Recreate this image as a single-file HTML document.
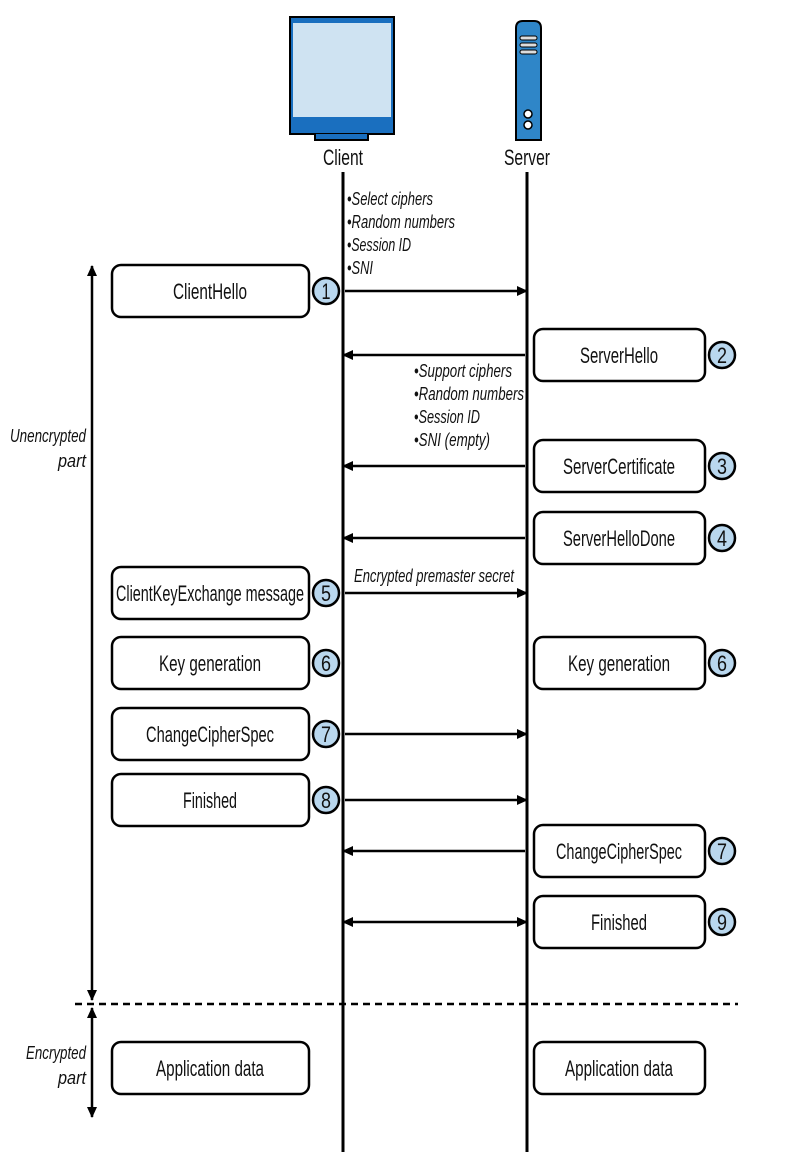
<!DOCTYPE html>
<html><head><meta charset="utf-8"><style>
html,body{margin:0;padding:0;background:#fff}
svg{display:block}
text{font-family:"Liberation Sans",sans-serif;fill:#111}
.b{font-size:22px}
.i{font-size:18px;font-style:italic}
</style></head><body>
<svg width="808" height="1152" viewBox="0 0 808 1152" xmlns="http://www.w3.org/2000/svg">
<defs>
<marker id="ar" markerWidth="12" markerHeight="12" refX="10" refY="6" orient="auto" markerUnits="userSpaceOnUse">
<path d="M0,1 L11,6 L0,11 Z" fill="#000"/></marker>
<marker id="al" markerWidth="12" markerHeight="12" refX="2" refY="6" orient="auto" markerUnits="userSpaceOnUse">
<path d="M12,1 L1,6 L12,11 Z" fill="#000"/></marker>
</defs>
<!-- monitor -->
<rect x="290" y="17" width="104" height="117" fill="#1a6fbf" stroke="#000" stroke-width="2"/>
<rect x="293" y="23" width="98" height="94" fill="#cfe3f2"/>
<path d="M315,134 L315,140 L368,140 L368,134" fill="#1a6fbf" stroke="#000" stroke-width="2"/>
<!-- server -->
<path d="M516,140 L516,28 Q516,21 523,21 L534,21 Q541,21 541,28 L541,140 Z" fill="#2f86c8" stroke="#000" stroke-width="2"/>
<rect x="520" y="36" width="17" height="4" rx="2" fill="#ddd" stroke="#000" stroke-width="1"/>
<rect x="520" y="43" width="17" height="4" rx="2" fill="#ddd" stroke="#000" stroke-width="1"/>
<rect x="520" y="50" width="17" height="4" rx="2" fill="#ddd" stroke="#000" stroke-width="1"/>
<circle cx="528" cy="114" r="4" fill="#fff" stroke="#000" stroke-width="1.5"/>
<circle cx="528" cy="125" r="4" fill="#fff" stroke="#000" stroke-width="1.5"/>
<text class="b" x="343" y="165" text-anchor="middle" textLength="40" lengthAdjust="spacingAndGlyphs">Client</text>
<text class="b" x="527" y="165" text-anchor="middle" textLength="46" lengthAdjust="spacingAndGlyphs">Server</text>
<!-- lifelines -->
<line x1="343" y1="172" x2="343" y2="1152" stroke="#000" stroke-width="3"/>
<line x1="527" y1="172" x2="527" y2="1152" stroke="#000" stroke-width="3"/>
<!-- notes -->
<text class="i" x="347" y="205" textLength="86" lengthAdjust="spacingAndGlyphs">•Select ciphers</text>
<text class="i" x="347" y="228" textLength="108" lengthAdjust="spacingAndGlyphs">•Random numbers</text>
<text class="i" x="347" y="251" textLength="64" lengthAdjust="spacingAndGlyphs">•Session ID</text>
<text class="i" x="347" y="274" textLength="26" lengthAdjust="spacingAndGlyphs">•SNI</text>
<text class="i" x="414" y="377" textLength="98" lengthAdjust="spacingAndGlyphs">•Support ciphers</text>
<text class="i" x="414" y="400" textLength="110" lengthAdjust="spacingAndGlyphs">•Random numbers</text>
<text class="i" x="414" y="423" textLength="66" lengthAdjust="spacingAndGlyphs">•Session ID</text>
<text class="i" x="414" y="446" textLength="76" lengthAdjust="spacingAndGlyphs">•SNI (empty)</text>
<text class="i" x="354" y="582" textLength="160" lengthAdjust="spacingAndGlyphs">Encrypted premaster secret</text>
<!-- arrows -->
<g stroke="#000" stroke-width="2.5">
<line x1="345" y1="291" x2="527" y2="291" marker-end="url(#ar)"/>
<line x1="525" y1="355" x2="343" y2="355" marker-end="url(#ar)"/>
<line x1="525" y1="466" x2="343" y2="466" marker-end="url(#ar)"/>
<line x1="525" y1="538" x2="343" y2="538" marker-end="url(#ar)"/>
<line x1="345" y1="593" x2="527" y2="593" marker-end="url(#ar)"/>
<line x1="345" y1="734" x2="527" y2="734" marker-end="url(#ar)"/>
<line x1="345" y1="800" x2="527" y2="800" marker-end="url(#ar)"/>
<line x1="525" y1="851" x2="343" y2="851" marker-end="url(#ar)"/>
<line x1="343" y1="922" x2="527" y2="922" marker-end="url(#ar)" marker-start="url(#al)"/>
</g>
<!-- boxes -->
<g fill="#fff" stroke="#000" stroke-width="2.5">
<rect x="112" y="265" width="197" height="52" rx="9"/>
<rect x="112" y="567" width="197" height="52" rx="9"/>
<rect x="112" y="637" width="197" height="52" rx="9"/>
<rect x="112" y="708" width="197" height="52" rx="9"/>
<rect x="112" y="774" width="197" height="52" rx="9"/>
<rect x="112" y="1042" width="197" height="52" rx="9"/>
<rect x="534" y="329" width="171" height="52" rx="9"/>
<rect x="534" y="440" width="171" height="52" rx="9"/>
<rect x="534" y="512" width="171" height="52" rx="9"/>
<rect x="534" y="637" width="171" height="52" rx="9"/>
<rect x="534" y="825" width="171" height="52" rx="9"/>
<rect x="534" y="896" width="171" height="52" rx="9"/>
<rect x="534" y="1042" width="171" height="52" rx="9"/>
</g>
<g text-anchor="middle">
<text class="b" x="210" y="299" textLength="74" lengthAdjust="spacingAndGlyphs">ClientHello</text>
<text class="b" x="210" y="601" textLength="188" lengthAdjust="spacingAndGlyphs">ClientKeyExchange message</text>
<text class="b" x="210" y="671" textLength="102" lengthAdjust="spacingAndGlyphs">Key generation</text>
<text class="b" x="210" y="742" textLength="128" lengthAdjust="spacingAndGlyphs">ChangeCipherSpec</text>
<text class="b" x="210" y="808" textLength="54" lengthAdjust="spacingAndGlyphs">Finished</text>
<text class="b" x="210" y="1076" textLength="108" lengthAdjust="spacingAndGlyphs">Application data</text>
<text class="b" x="619" y="363" textLength="78" lengthAdjust="spacingAndGlyphs">ServerHello</text>
<text class="b" x="619" y="474" textLength="112" lengthAdjust="spacingAndGlyphs">ServerCertificate</text>
<text class="b" x="619" y="546" textLength="112" lengthAdjust="spacingAndGlyphs">ServerHelloDone</text>
<text class="b" x="619" y="671" textLength="102" lengthAdjust="spacingAndGlyphs">Key generation</text>
<text class="b" x="619" y="859" textLength="126" lengthAdjust="spacingAndGlyphs">ChangeCipherSpec</text>
<text class="b" x="619" y="930" textLength="56" lengthAdjust="spacingAndGlyphs">Finished</text>
<text class="b" x="619" y="1076" textLength="108" lengthAdjust="spacingAndGlyphs">Application data</text>
</g>
<!-- circles -->
<g fill="#b9d7ee" stroke="#000" stroke-width="2.5">
<circle cx="326" cy="291" r="13"/><circle cx="326" cy="593" r="13"/><circle cx="326" cy="663" r="13"/>
<circle cx="326" cy="734" r="13"/><circle cx="326" cy="800" r="13"/>
<circle cx="722" cy="355" r="13"/><circle cx="722" cy="466" r="13"/><circle cx="722" cy="538" r="13"/>
<circle cx="722" cy="663" r="13"/><circle cx="722" cy="851" r="13"/><circle cx="722" cy="922" r="13"/>
</g>
<g text-anchor="middle">
<text class="b" x="326" y="299" textLength="9" lengthAdjust="spacingAndGlyphs">1</text><text class="b" x="326" y="601" textLength="10" lengthAdjust="spacingAndGlyphs">5</text><text class="b" x="326" y="671" textLength="10" lengthAdjust="spacingAndGlyphs">6</text>
<text class="b" x="326" y="742" textLength="10" lengthAdjust="spacingAndGlyphs">7</text><text class="b" x="326" y="808" textLength="10" lengthAdjust="spacingAndGlyphs">8</text>
<text class="b" x="722" y="363" textLength="10" lengthAdjust="spacingAndGlyphs">2</text><text class="b" x="722" y="474" textLength="10" lengthAdjust="spacingAndGlyphs">3</text><text class="b" x="722" y="546" textLength="10" lengthAdjust="spacingAndGlyphs">4</text>
<text class="b" x="722" y="671" textLength="10" lengthAdjust="spacingAndGlyphs">6</text><text class="b" x="722" y="859" textLength="10" lengthAdjust="spacingAndGlyphs">7</text><text class="b" x="722" y="930" textLength="10" lengthAdjust="spacingAndGlyphs">9</text>
</g>
<!-- side arrows -->
<g stroke="#000" stroke-width="2.5">
<line x1="92" y1="266" x2="92" y2="1000" marker-end="url(#ar)" marker-start="url(#al)"/>
<line x1="92" y1="1008" x2="92" y2="1117" marker-end="url(#ar)" marker-start="url(#al)"/>
<line x1="75" y1="1004" x2="738" y2="1004" stroke-dasharray="7,5"/>
</g>
<g text-anchor="end">
<text class="i" x="86" y="442" textLength="76" lengthAdjust="spacingAndGlyphs">Unencrypted</text>
<text class="i" x="86" y="467" textLength="28" lengthAdjust="spacingAndGlyphs">part</text>
<text class="i" x="86" y="1059" textLength="60" lengthAdjust="spacingAndGlyphs">Encrypted</text>
<text class="i" x="86" y="1084" textLength="28" lengthAdjust="spacingAndGlyphs">part</text>
</g>
</svg>
</body></html>
